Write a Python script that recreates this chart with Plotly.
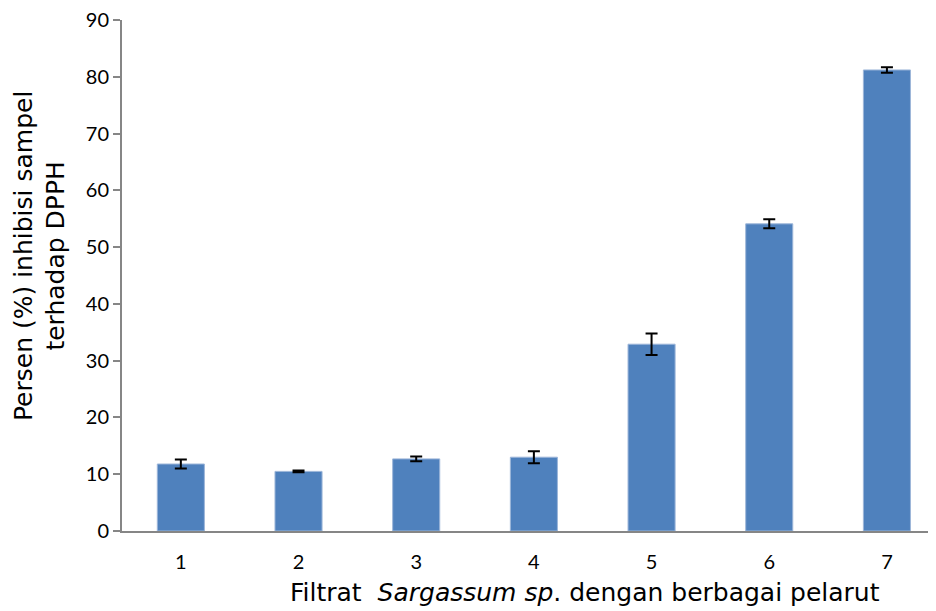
import plotly.graph_objects as go

categories = [1, 2, 3, 4, 5, 6, 7]
values = [11.8, 10.5, 12.7, 13.0, 32.9, 54.1, 81.2]
errors = [0.8, 0.15, 0.4, 1.05, 1.9, 0.8, 0.5]
y_ticks = [0, 10, 20, 30, 40, 50, 60, 70, 80, 90]

TICK_FONT = "Lato"
TITLE_FONT = "DejaVu Sans"
AXIS = "#868686"

fig = go.Figure(go.Bar(
    x=categories, y=values, width=0.4,
    marker=dict(color="#4F81BD", line=dict(color="#9DB6D9", width=1)),
    error_y=dict(type="data", array=errors, visible=True, color="black", thickness=2, width=6),
))

fig.update_layout(
    width=928, height=603,
    margin=dict(l=114, r=0, t=12, b=80),
    plot_bgcolor="white", paper_bgcolor="white",
    showlegend=False,
    font=dict(family=TICK_FONT, size=20, color="black"),
)
fig.update_xaxes(
    range=[0.5, 7.417], tickvals=categories, ticktext=[str(c) for c in categories],
    showline=True, linecolor=AXIS, linewidth=2, ticks="", showgrid=False, zeroline=False,
    tickfont=dict(size=20), ticklabelstandoff=12, ticklabeloverflow="allow",
)
fig.update_yaxes(
    range=[0, 90], tickvals=y_ticks, showline=True, linecolor=AXIS, linewidth=2,
    ticks="outside", ticklen=7, tickcolor=AXIS, tickwidth=2, showgrid=False, zeroline=False,
    tickfont=dict(size=20), ticklabeloverflow="allow",
)
fig.add_annotation(
    text="Persen (%) inhibisi sampel<br>terhadap DPPH", textangle=-90,
    xref="paper", yref="paper", x=-0.1007, xanchor="center", y=0.538, yanchor="middle",
    showarrow=False, font=dict(family=TITLE_FONT, size=25),
)
fig.add_annotation(
    text="Filtrat  <i>Sargassum sp</i>. dengan berbagai pelarut",
    xref="paper", yref="paper", x=0.569, y=-0.121, xanchor="center", yanchor="middle",
    showarrow=False, font=dict(family=TITLE_FONT, size=25),
)
fig.write_html("out.html")
